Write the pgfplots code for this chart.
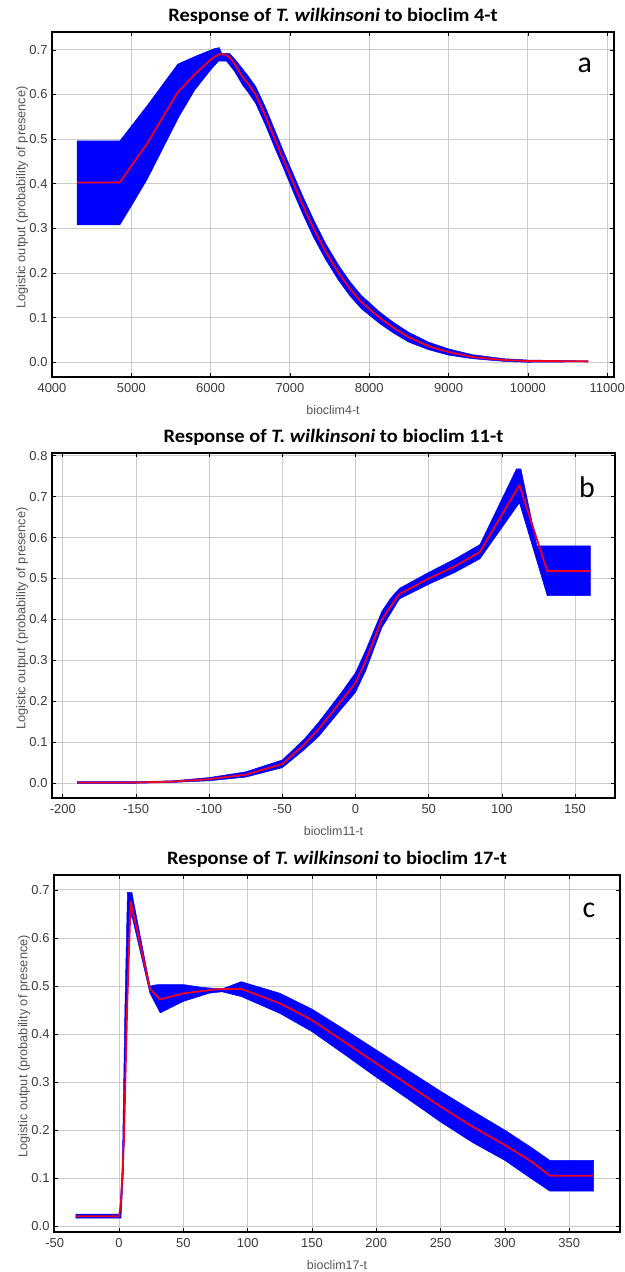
\documentclass[border=0pt]{standalone}
\usepackage{pgfplots}
\pgfplotsset{compat=1.18}
\usepackage{fontspec}
\setmainfont{Liberation Sans}
\newfontfamily\titlefont[FakeStretch=1.08]{Carlito}
\newfontfamily\letterfont{Carlito}
\definecolor{gridc}{HTML}{CCCCCC}
\definecolor{tickc}{HTML}{3A3A3A}
\definecolor{labc}{HTML}{555555}
\definecolor{bandc}{RGB}{0,0,255}
\definecolor{linec}{RGB}{240,0,30}
\pgfplotsset{
 panel/.style={
  scale only axis,
  axis line style={draw=black, line width=1.1bp},
  grid=major, major grid style={draw=gridc, line width=0.9bp},
  tick style={draw=black, line width=0.7bp}, major tick length=4bp, tick align=inside,
  scaled x ticks=false, scaled y ticks=false,
  /pgf/number format/assume math mode=true,
  ticklabel style={font=\fontsize{13}{14}\selectfont, text=tickc},
  xticklabel style={yshift=-3bp},
  yticklabel style={xshift=-1bp},
  xticklabel={\pgfmathprintnumber[set thousands separator={}]{\tick}},
  yticklabel={\pgfmathprintnumber[fixed,fixed zerofill,precision=1]{\tick}},
  every axis y label/.style={at={(rel axis cs:0,0.52)}, xshift=-30bp, rotate=90, anchor=center,
    font=\fontsize{12.8}{14}\selectfont, text=labc},
  every axis x label/.style={at={(rel axis cs:0.5,0)}, yshift=-33bp, anchor=center,
    font=\fontsize{12.5}{14}\selectfont, text=labc},
  every axis title/.style={at={(rel axis cs:0.5,1)}, yshift=16bp, anchor=center,
    font=\titlefont\bfseries\fontsize{19}{21}\selectfont},
  ylabel={Logistic output (probability of presence)},
  band/.style={fill=bandc, draw=bandc, line width=0.5bp, mark=none},
  mid/.style={draw=linec, line width=1.8bp, line join=round, mark=none},
 }
}
\begin{document}
\begin{tikzpicture}
\path[use as bounding box] (0,0) rectangle (625bp,-1272bp);
% ---------------- panel a
\begin{axis}[panel, at={(52bp,-32bp)}, anchor=north west, width=562bp, height=345bp,
  xmin=4000, xmax=11086, ymin=-0.033, ymax=0.74,
  xtick={4000,5000,6000,7000,8000,9000,10000,11000},
  ytick={0,0.1,0.2,0.3,0.4,0.5,0.6,0.7},
  xlabel={bioclim4-t},
  title={Response of \textit{T. wilkinsoni} to bioclim 4-t}]
\addplot[band] coordinates {
(4317,0.496) (4856,0.496) (5200,0.575) (5586,0.668) (5800,0.685) (6050,0.703) (6110,0.705) (6140,0.692) (6240,0.692) (6320,0.676) (6400,0.658) (6480,0.640) (6568,0.618) (6690,0.572) (6810,0.520) (6930,0.468) (7046,0.420) (7170,0.369) (7298,0.320) (7450,0.266) (7615,0.217) (7760,0.180) (7900,0.150) (8130,0.113) (8300,0.090) (8500,0.067) (8750,0.045) (9000,0.030) (9300,0.017) (9700,0.008) (10000,0.005) (10760,0.003)
(10760,0.001) (10000,0.000) (9700,0.002) (9300,0.008) (9000,0.016) (8750,0.028) (8500,0.045) (8300,0.066) (8130,0.087) (7900,0.120) (7760,0.148) (7615,0.183) (7450,0.230) (7298,0.280) (7170,0.329) (7046,0.380) (6930,0.430) (6810,0.480) (6690,0.532) (6568,0.580) (6480,0.603) (6400,0.622) (6300,0.652) (6200,0.675) (6100,0.675) (6000,0.655) (5800,0.610) (5600,0.550) (5400,0.480) (5200,0.410) (5000,0.350) (4856,0.308) (4317,0.308)
} -- cycle;
\addplot[mid] coordinates {
(4317,0.403) (4856,0.403) (5000,0.440) (5200,0.490) (5400,0.550) (5586,0.605) (5800,0.645) (6000,0.678) (6100,0.690) (6180,0.690) (6250,0.682) (6320,0.664) (6400,0.640) (6480,0.622) (6568,0.600) (6690,0.552) (6810,0.500) (6930,0.449) (7046,0.400) (7170,0.349) (7298,0.300) (7450,0.248) (7615,0.200) (7760,0.164) (7900,0.135) (8130,0.100) (8300,0.078) (8500,0.056) (8750,0.036) (9000,0.023) (9300,0.012) (9700,0.005) (10000,0.003) (10760,0.002)
};
\node[font=\letterfont\fontsize{30}{30}\selectfont, anchor=center] at (rel axis cs:0.948,0.904) {a};
\end{axis}
% ---------------- panel b
\begin{axis}[panel, at={(52bp,-453bp)}, anchor=north west, width=563bp, height=345bp,
  xmin=-207.4, xmax=177.3, ymin=-0.036, ymax=0.8065,
  xtick={-200,-150,-100,-50,0,50,100,150},
  ytick={0,0.1,0.2,0.3,0.4,0.5,0.6,0.7,0.8},
  xlabel={bioclim11-t},
  title={Response of \textit{T. wilkinsoni} to bioclim 11-t}]
\addplot[band] coordinates {
(-190,0.004) (-150,0.004) (-125,0.006) (-100,0.014) (-75,0.028) (-50,0.057) (-35,0.108) (-25,0.150) (-10,0.220) (0,0.270) (7,0.325) (18,0.420) (24,0.452) (30,0.476) (50,0.515) (68,0.548) (85,0.583) (110,0.768) (113,0.768) (124,0.580) (160.4,0.580)
(160.4,0.458) (131,0.458) (112,0.685) (85,0.548) (68,0.515) (50,0.486) (30,0.450) (24,0.415) (18,0.380) (7,0.275) (0,0.222) (-10,0.180) (-25,0.115) (-35,0.082) (-50,0.038) (-75,0.015) (-100,0.006) (-125,0.002) (-150,0.000) (-190,0.000)
} -- cycle;
\addplot[mid] coordinates {
(-190,0.002) (-150,0.002) (-125,0.004) (-100,0.010) (-75,0.021) (-50,0.047) (-35,0.095) (-25,0.133) (-10,0.200) (0,0.245) (7,0.300) (18,0.400) (24,0.432) (30,0.462) (50,0.500) (68,0.530) (85,0.565) (112,0.728) (131,0.518) (160.4,0.518)
};
\node[font=\letterfont\fontsize{30}{30}\selectfont, anchor=center] at (rel axis cs:0.950,0.901) {b};
\end{axis}
% ---------------- panel c
\begin{axis}[panel, at={(54bp,-875bp)}, anchor=north west, width=566bp, height=357bp,
  xmin=-50.6, xmax=389.5, ymin=-0.012, ymax=0.731,
  xtick={-50,0,50,100,150,200,250,300,350},
  ytick={0,0.1,0.2,0.3,0.4,0.5,0.6,0.7},
  xlabel={bioclim17-t},
  title={Response of \textit{T. wilkinsoni} to bioclim 17-t}]
\addplot[band] coordinates {
(-33.5,0.025) (0.5,0.025) (2.5,0.12) (4.5,0.45) (6.5,0.695) (10,0.695) (11,0.680) (24,0.500) (30,0.503) (50,0.503) (65,0.497) (80,0.494) (95,0.509) (125,0.485) (150,0.452) (175,0.410) (200,0.367) (225,0.324) (250,0.281) (275,0.240) (300,0.200) (320,0.165) (335,0.137) (369,0.137)
(369,0.073) (335,0.073) (320,0.100) (300,0.137) (275,0.174) (250,0.217) (225,0.264) (200,0.310) (175,0.358) (150,0.405) (125,0.443) (95,0.478) (80,0.488) (70,0.485) (50,0.468) (32,0.444) (24,0.485) (10.5,0.640) (8,0.650) (5.5,0.400) (3.5,0.120) (1.5,0.017) (-33.5,0.017)
} -- cycle;
\addplot[mid] coordinates {
(-33.5,0.021) (0,0.021) (1.5,0.050) (3.8,0.180) (6.3,0.457) (9,0.676) (24,0.495) (31.8,0.472) (50.5,0.485) (75,0.493) (95,0.494) (125,0.464) (150,0.429) (175,0.384) (200,0.339) (225,0.294) (250,0.249) (275,0.207) (300,0.169) (321,0.134) (335,0.105) (369,0.105)
};
\node[font=\letterfont\fontsize{30}{30}\selectfont, anchor=center] at (rel axis cs:0.945,0.902) {c};
\end{axis}
\end{tikzpicture}
\end{document}
